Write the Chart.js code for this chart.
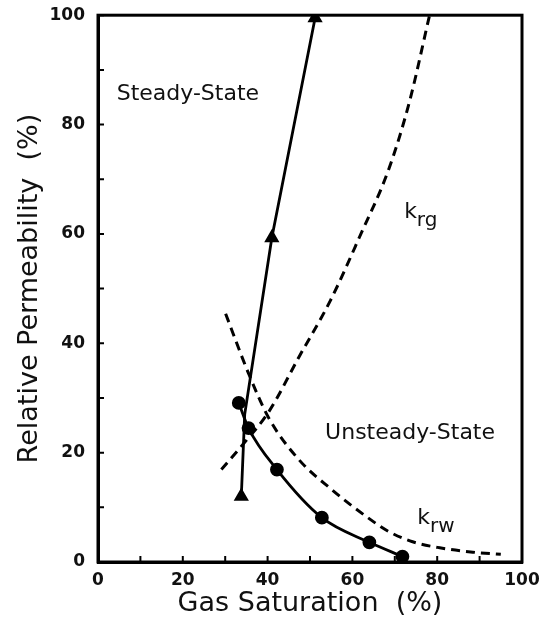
<!DOCTYPE html>
<html>
<head>
<meta charset="utf-8">
<script src="https://cdn.jsdelivr.net/npm/chart.js@4"></script>
<style>
  body { margin: 0; background: #fff; }
  canvas { display: block; }
</style>
</head>
<body>
<canvas id="chart" width="544" height="624"></canvas>
<script>
// steady-state gas curve (triangles)
var ssGasSat = [33.8, 34.6, 41.0, 51.2];
var ssKrg = [12.0, 27.0, 59.3, 99.5];

// steady-state water curve (circles)
var ssWaterSat = [33.2, 35.5, 42.2, 52.8, 64.0, 71.8];
var ssKrw = [29.1, 24.5, 16.9, 8.1, 3.6, 1.0];

// unsteady-state curves (dashed)
var usGasSat = [29.1, 34.5, 40.3, 47.4, 54.8, 61.6, 68.7, 73.5, 78.2];
var usKrg = [16.9, 21.8, 27.5, 37.5, 47.8, 59.3, 72.1, 84.3, 100];
var usWaterSat = [30.1, 35.5, 40.3, 47.4, 55.2, 63.3, 68.5, 74.2, 80.6, 88.4, 95.0];
var usKrw = [45.4, 34.5, 26.3, 18.7, 13.2, 8.3, 5.6, 3.7, 2.6, 1.8, 1.4];

var axisTicks = [0, 10, 20, 30, 40, 50, 60, 70, 80, 90, 100];

var FONT = "'DejaVu Sans', Verdana, sans-serif";

function pts(xs, ys) {
    return xs.map(function (x, i) { return { x: x, y: ys[i] }; });
}

// box round the plot, inward tick marks, and the text labels
var decorations = {
    id: 'decorations',
    afterDraw: function (chart) {
        var ctx = chart.ctx;
        var a = chart.chartArea;
        var xs = chart.scales.x, ys = chart.scales.y;
        ctx.save();
        ctx.strokeStyle = '#000';
        ctx.lineWidth = 3;
        ctx.strokeRect(a.left, a.top, a.right - a.left, a.bottom - a.top);

        ctx.lineWidth = 2;
        axisTicks.forEach(function (v) {
            var py = ys.getPixelForValue(v);
            var px = xs.getPixelForValue(v);
            ctx.beginPath();
            ctx.moveTo(a.left, py); ctx.lineTo(a.left + 6, py);
            ctx.moveTo(px, a.bottom); ctx.lineTo(px, a.bottom - 6);
            ctx.stroke();
        });

        ctx.fillStyle = '#111';
        ctx.textBaseline = 'middle';
        ctx.textAlign = 'center';
        ctx.font = '22px ' + FONT;
        ctx.fillText('Steady-State', xs.getPixelForValue(21.2), ys.getPixelForValue(85.5));
        ctx.fillText('Unsteady-State', xs.getPixelForValue(73.6), ys.getPixelForValue(23.6));

        // k with subscripts
        function kLabel(sub, x, y) {
            var px = xs.getPixelForValue(x), py = ys.getPixelForValue(y);
            ctx.textAlign = 'left';
            ctx.textBaseline = 'alphabetic';
            ctx.font = '22px ' + FONT;
            ctx.fillText('k', px, py);
            var w = ctx.measureText('k').width;
            ctx.font = '20px ' + FONT;
            ctx.fillText(sub, px + w, py + 8);
        }
        kLabel('rg', 72.2, 63.0);
        kLabel('rw', 75.3, 7.0);
        ctx.restore();
    }
};

var ctx = document.getElementById('chart');
var chart = new Chart(ctx, {
    type: 'scatter',
    data: {
        datasets: [
            {
                label: 'krg steady',
                data: pts(ssGasSat, ssKrg),
                showLine: true,
                borderColor: '#000',
                backgroundColor: '#000',
                borderWidth: 2.8,
                pointStyle: 'triangle',
                pointRadius: [6, 0, 6, 6],
                tension: 0
            },
            {
                label: 'krw steady',
                data: pts(ssWaterSat, ssKrw),
                showLine: true,
                borderColor: '#000',
                backgroundColor: '#000',
                borderWidth: 2.8,
                pointStyle: 'circle',
                pointRadius: 5.5,
                cubicInterpolationMode: 'monotone'
            },
            {
                label: 'krg unsteady',
                data: pts(usGasSat, usKrg),
                showLine: true,
                borderColor: '#000',
                borderWidth: 3,
                borderDash: [9, 6],
                pointRadius: 0,
                cubicInterpolationMode: 'monotone'
            },
            {
                label: 'krw unsteady',
                data: pts(usWaterSat, usKrw),
                showLine: true,
                borderColor: '#000',
                borderWidth: 3,
                borderDash: [9, 6],
                pointRadius: 0,
                cubicInterpolationMode: 'monotone'
            }
        ]
    },
    options: {
        responsive: false,
        animation: false,
        devicePixelRatio: 1,
        layout: { padding: { top: 14, right: 22, left: 0, bottom: 0 } },
        plugins: {
            legend: { display: false },
            tooltip: { enabled: false }
        },
        scales: {
            x: {
                type: 'linear',
                min: 0,
                max: 100,
                afterFit: function (s) { s.height = 62; },
                grid: { display: false },
                border: { display: true, width: 3, color: '#000' },
                ticks: {
                    stepSize: 10,
                    autoSkip: false,
                    maxRotation: 0,
                    padding: 0,
                    color: '#111',
                    font: { family: FONT, size: 17, weight: 'bold' },
                    callback: function (v) { return v % 20 === 0 ? v : ''; }
                },
                title: {
                    display: true,
                    text: 'Gas Saturation  (%)',
                    color: '#111',
                    font: { family: FONT, size: 27 },
                    padding: { top: 0, bottom: 4 }
                }
            },
            y: {
                type: 'linear',
                min: 0,
                max: 100,
                afterFit: function (s) { s.width = 98; },
                grid: { display: false },
                border: { display: true, width: 3, color: '#000' },
                ticks: {
                    stepSize: 10,
                    autoSkip: false,
                    padding: 5,
                    color: '#111',
                    font: { family: FONT, size: 17, weight: 'bold' },
                    callback: function (v) { return v % 20 === 0 ? v : ''; }
                },
                title: {
                    display: true,
                    text: 'Relative Permeability  (%)',
                    color: '#111',
                    font: { family: FONT, size: 27 },
                    padding: { top: 14, bottom: 0 }
                }
            }
        }
    },
    plugins: [decorations]
});
</script>
</body>
</html>
